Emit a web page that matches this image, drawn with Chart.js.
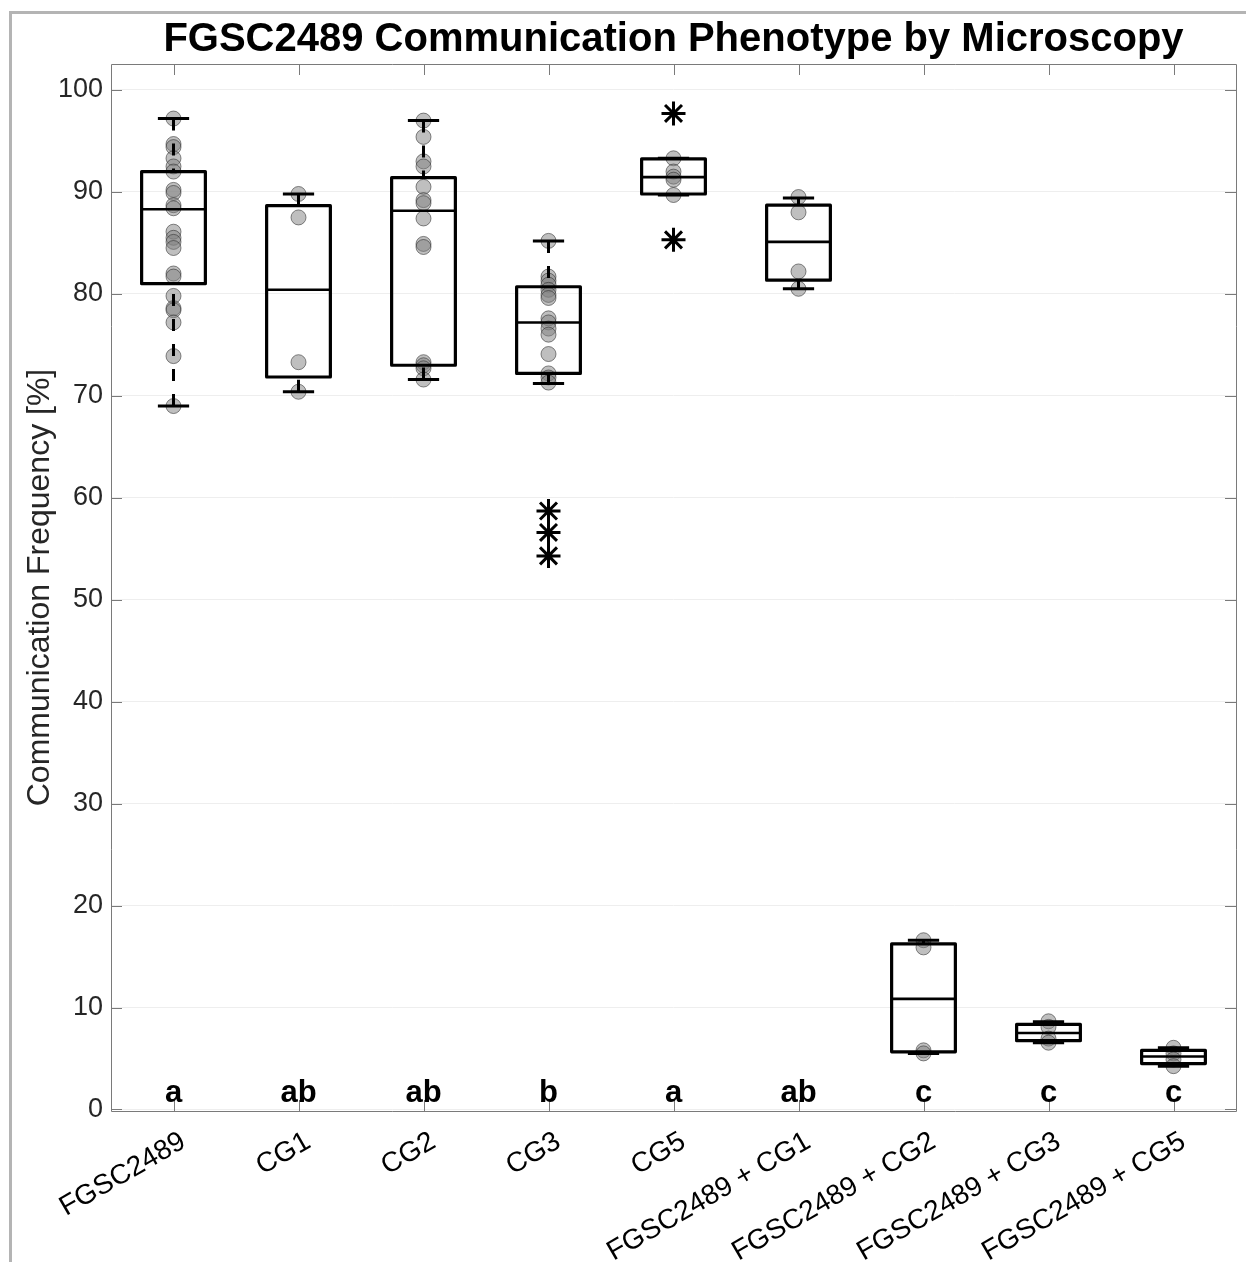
<!DOCTYPE html>
<html>
<head>
<meta charset="utf-8">
<script src="https://cdn.jsdelivr.net/npm/chart.js@4.4.0/dist/chart.umd.min.js"></script>
<style>
  html, body { margin: 0; padding: 0; background: #ffffff; }
  #c { display: block; }
</style>
</head>
<body>
<canvas id="c" width="1246" height="1262"></canvas>
<script>
// Strain / co-culture groups along the x axis
const categories = ['FGSC2489', 'CG1', 'CG2', 'CG3', 'CG5',
  'FGSC2489 + CG1', 'FGSC2489 + CG2', 'FGSC2489 + CG3', 'FGSC2489 + CG5'];

// Compact letter display (significance groups)
const groupLetters = ['a', 'ab', 'ab', 'b', 'a', 'ab', 'c', 'c', 'c'];

// Box statistics per group (communication frequency, %)
const whiskerLow  = [69.0, 70.4, 71.6, 71.2, 89.7, 80.5, 5.5, 6.55, 4.25];
const q1          = [81.0, 71.85, 73.0, 72.2, 89.8, 81.35, 5.65, 6.75, 4.5];
const medians     = [88.3, 80.4, 88.15, 77.2, 91.45, 85.1, 10.85, 7.5, 5.2];
const q3          = [92.0, 88.65, 91.4, 80.7, 93.25, 88.7, 16.25, 8.35, 5.8];
const whiskerHigh = [97.2, 89.8, 97.0, 85.2, 93.3, 89.4, 16.6, 8.6, 6.05];

// Individual replicate measurements (%)
const samples = [
  [97.2, 94.7, 94.4, 93.3, 92.5, 92.0, 90.2, 89.9, 88.7, 88.4, 86.1, 85.5, 85.1, 84.5,
   82.0, 81.7, 79.8, 78.6, 78.4, 77.2, 73.9, 69.0],
  [89.8, 87.5, 73.3, 70.4],
  [97.0, 95.4, 93.0, 92.5, 90.5, 89.2, 88.9, 87.4, 84.9, 84.6, 73.3, 73.0, 72.7, 71.6],
  [85.2, 81.7, 81.3, 80.9, 80.4, 79.9, 79.6, 77.6, 77.2, 76.6, 76.0, 74.1, 72.2, 71.8, 71.3],
  [93.3, 92.0, 91.5, 91.2, 89.7],
  [89.5, 88.0, 82.2, 80.5],
  [16.6, 15.9, 5.8, 5.5],
  [8.65, 8.1, 6.95, 6.55],
  [6.05, 5.5, 4.9, 4.25]
];

// Values flagged as outliers
const outliers = [[], [], [], [58.7, 56.6, 54.3], [97.7, 85.3], [], [], [], []];

// y axis ticks
const yTicks = [0, 10, 20, 30, 40, 50, 60, 70, 80, 90, 100];

const FONT = '"Liberation Sans", Arial, Helvetica, sans-serif';

const samplePoints = [];
samples.forEach((vals, i) => vals.forEach(v => samplePoints.push({ x: i + 1, y: v })));
const outlierPoints = [];
outliers.forEach((vals, i) => vals.forEach(v => outlierPoints.push({ x: i + 1, y: v })));

// Outer gray frame, chart title
const decorPlugin = {
  id: 'decor',
  beforeDraw(chart) {
    const ctx = chart.ctx;
    ctx.save();
    ctx.strokeStyle = '#b4b4b4';
    ctx.lineWidth = 3;
    ctx.beginPath();
    ctx.moveTo(10.5, chart.height);
    ctx.lineTo(10.5, 12.5);
    ctx.lineTo(chart.width, 12.5);
    ctx.stroke();
    ctx.restore();
  },
  afterDraw(chart) {
    const { ctx, chartArea } = chart;
    ctx.save();
    ctx.fillStyle = '#000000';
    ctx.font = 'bold 40px ' + FONT;
    ctx.textAlign = 'center';
    ctx.textBaseline = 'alphabetic';
    ctx.fillText('FGSC2489 Communication Phenotype by Microscopy',
      (chartArea.left + chartArea.right) / 2, 51);
    ctx.restore();
  }
};

// Axes box with inward ticks on all four sides
const axesBoxPlugin = {
  id: 'axesBox',
  afterDatasetsDraw(chart) {
    const { ctx, chartArea: a, scales: { x, y } } = chart;
    ctx.save();
    ctx.strokeStyle = '#7a7a7a';
    ctx.lineWidth = 1;
    ctx.beginPath();
    ctx.rect(Math.round(a.left) + 0.5, Math.round(a.top) + 0.5,
      Math.round(a.right - a.left), Math.round(a.bottom - a.top));
    const tl = 11;
    categories.forEach((_, i) => {
      const px = Math.round(x.getPixelForValue(i + 1)) + 0.5;
      ctx.moveTo(px, a.bottom); ctx.lineTo(px, a.bottom - tl);
      ctx.moveTo(px, a.top); ctx.lineTo(px, a.top + tl);
    });
    yTicks.forEach(v => {
      const py = Math.round(y.getPixelForValue(v)) + 0.5;
      ctx.moveTo(a.left, py); ctx.lineTo(a.left + tl, py);
      ctx.moveTo(a.right, py); ctx.lineTo(a.right - tl, py);
    });
    ctx.stroke();
    ctx.restore();
  }
};

// Box-and-whisker glyphs plus the letter labels
const boxPlugin = {
  id: 'boxes',
  afterDatasetsDraw(chart) {
    const { ctx, scales: { x, y } } = chart;
    ctx.save();
    ctx.strokeStyle = '#000000';
    categories.forEach((_, i) => {
      const cx = x.getPixelForValue(i + 1);
      const hw = x.getPixelForValue(i + 1.255) - cx;
      const cw = x.getPixelForValue(i + 1.125) - cx;
      const yq1 = y.getPixelForValue(q1[i]);
      const yq3 = y.getPixelForValue(q3[i]);
      const ym = y.getPixelForValue(medians[i]);
      const ylo = y.getPixelForValue(whiskerLow[i]);
      const yhi = y.getPixelForValue(whiskerHigh[i]);

      // dashed whiskers, drawn from the caps toward the box
      ctx.lineWidth = 3;
      ctx.setLineDash([12, 13]);
      ctx.beginPath();
      ctx.moveTo(cx, yhi); ctx.lineTo(cx, yq3);
      ctx.moveTo(cx, ylo); ctx.lineTo(cx, yq1);
      ctx.stroke();
      ctx.setLineDash([]);

      // caps
      ctx.beginPath();
      ctx.moveTo(cx - cw, yhi); ctx.lineTo(cx + cw, yhi);
      ctx.moveTo(cx - cw, ylo); ctx.lineTo(cx + cw, ylo);
      ctx.stroke();

      // box
      ctx.lineWidth = 3.2;
      ctx.lineJoin = 'round';
      ctx.strokeRect(cx - hw, yq3, 2 * hw, yq1 - yq3);

      // median
      ctx.lineWidth = 2.6;
      ctx.beginPath();
      ctx.moveTo(cx - hw, ym); ctx.lineTo(cx + hw, ym);
      ctx.stroke();

      // letter
      ctx.fillStyle = '#000000';
      ctx.font = 'bold 31px ' + FONT;
      ctx.textAlign = 'center';
      ctx.textBaseline = 'middle';
      ctx.fillText(groupLetters[i], cx, y.getPixelForValue(1.55));
    });
    ctx.restore();
  }
};

new Chart(document.getElementById('c'), {
  type: 'scatter',
  data: {
    datasets: [
      {
        label: 'samples',
        data: samplePoints,
        pointStyle: 'circle',
        pointRadius: 7.5,
        pointBackgroundColor: 'rgba(128,128,128,0.5)',
        pointBorderColor: 'rgba(40,40,40,0.55)',
        pointBorderWidth: 1
      },
      {
        label: 'outliers',
        data: outlierPoints,
        pointStyle: 'star',
        pointRadius: 12,
        pointBackgroundColor: '#000000',
        pointBorderColor: '#000000',
        pointBorderWidth: 3
      }
    ]
  },
  options: {
    responsive: false,
    animation: false,
    events: [],
    layout: { autoPadding: false, padding: { left: 0, top: 64, right: 10, bottom: 0 } },
    plugins: {
      legend: { display: false },
      tooltip: { enabled: false },
      title: { display: false }
    },
    scales: {
      x: {
        type: 'linear',
        min: 0.5,
        max: 9.5,
        afterBuildTicks(s) { s.ticks = categories.map((_, i) => ({ value: i + 1 })); },
        afterFit(s) { s.height = 151; s.paddingLeft = 0; s.paddingRight = 0; },
        grid: { display: false },
        border: { display: false },
        ticks: {
          autoSkip: false,
          minRotation: 30,
          maxRotation: 30,
          padding: 6,
          labelOffset: 10,
          color: '#000000',
          font: { family: FONT, size: 28 },
          callback(v) { return categories[Math.round(v) - 1]; }
        }
      },
      y: {
        type: 'linear',
        min: -0.15,
        max: 102.55,
        afterBuildTicks(s) { s.ticks = yTicks.map(v => ({ value: v })); },
        afterFit(s) { s.width = 111; },
        grid: { color: '#eeeeee', lineWidth: 1, drawTicks: false },
        border: { display: false },
        ticks: {
          padding: 8,
          color: '#262626',
          font: { family: FONT, size: 27 }
        },
        title: {
          display: true,
          text: 'Communication Frequency [%]',
          color: '#262626',
          font: { family: FONT, size: 32 },
          padding: { top: 21, bottom: 0 }
        }
      }
    }
  },
  plugins: [decorPlugin, axesBoxPlugin, boxPlugin]
});
</script>
</body>
</html>
